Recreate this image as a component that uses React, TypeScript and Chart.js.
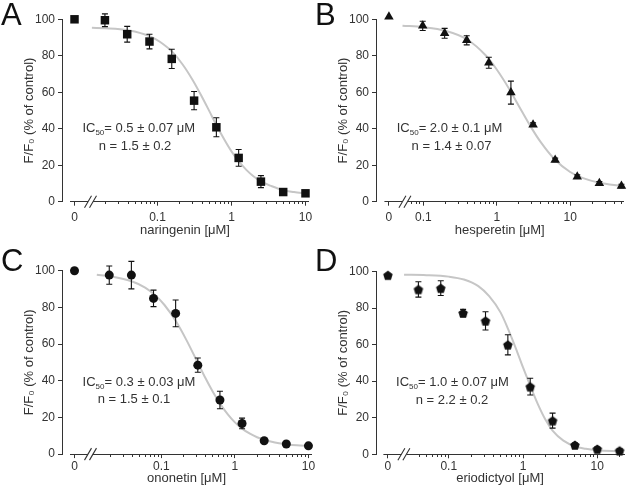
import React, { useEffect, useRef } from 'react';
import { Chart, registerables } from 'chart.js';

Chart.register(...registerables);

const FONT = '"Liberation Sans", Arial, Helvetica, sans-serif';
const INK = '#333333';
const MARK = '#111111';
const FIT_COLOR = '#c6c6c6';

// shared axis ticks
const X_TICK_CONC = [0, 0.1, 1, 10];
const X_TICK_LABELS = ['0', '0.1', '1', '10'];
const Y_TICKS = [0, 20, 40, 60, 80, 100];

// Panel A — naringenin
const CONC_A = [0, 0.0195, 0.039, 0.078, 0.156, 0.3125, 0.625, 1.25, 2.5, 5, 10];
const MEAN_A = [100, 99.5, 91.8, 87.8, 78.3, 55.4, 40.8, 24.0, 11.0, 5.3, 4.6];
const ERR_A = [0, 3.5, 4.3, 4.0, 5.3, 5.0, 5.2, 4.6, 3.3, 1.0, 1.0];
const FIT_X_A = [0.013, 0.02, 0.04, 0.08, 0.12, 0.16, 0.22, 0.3, 0.4, 0.5, 0.63, 0.8, 1.0, 1.25, 1.6, 2.0, 2.5, 3.5, 5, 7, 10];
const FIT_Y_A = [95.3, 95.1, 94.0, 90.6, 86.3, 82.0, 75.1, 66.6, 57.4, 49.8, 41.8, 34.1, 27.6, 22.2, 17.3, 13.8, 11.1, 8.5, 6.3, 5.3, 4.5];

// Panel B — hesperetin
const CONC_B = [0, 0.098, 0.195, 0.39, 0.78, 1.56, 3.125, 6.25, 12.5, 25, 50];
const MEAN_B = [101.4, 96.4, 92.3, 88.5, 76.2, 59.8, 42.2, 22.9, 13.7, 10.1, 8.6];
const ERR_B = [0, 2.5, 2.7, 2.5, 3.0, 6.3, 1.0, 1.0, 1.0, 1.0, 1.0];
const FIT_X_B = [0.052, 0.1, 0.2, 0.4, 0.7, 1.0, 1.5, 2.0, 3.0, 4.0, 6.0, 10, 15, 25, 50];
const FIT_Y_B = [96.5, 95.7, 93.7, 88.8, 80.4, 72.5, 61.4, 52.5, 40.2, 32.5, 23.7, 16.3, 12.9, 10.4, 8.6];

// Panel C — ononetin
const CONC_C = [0, 0.0195, 0.039, 0.078, 0.156, 0.3125, 0.625, 1.25, 2.5, 5, 10];
const MEAN_C = [100, 97.6, 97.6, 84.9, 76.7, 48.5, 29.5, 16.7, 7.3, 5.5, 4.5];
const ERR_C = [0, 5.0, 7.5, 4.5, 7.3, 3.9, 4.8, 2.9, 1.0, 1.0, 1.0];
const FIT_X_C = [0.0132, 0.02, 0.04, 0.06, 0.08, 0.11, 0.16, 0.22, 0.3, 0.4, 0.5, 0.63, 0.8, 1.0, 1.25, 1.6, 2.0, 2.5, 3.5, 5, 7, 10];
const FIT_Y_C = [97.8, 96.9, 94.1, 90.8, 87.0, 81.3, 72.0, 62.0, 51.2, 41.2, 34.0, 27.4, 21.7, 17.3, 13.9, 11.1, 9.2, 7.8, 6.3, 5.4, 4.8, 4.5];

// Panel D — eriodictyol
const CONC_D = [0, 0.039, 0.078, 0.156, 0.3125, 0.625, 1.25, 2.5, 5, 10, 20];
const MEAN_D = [98.0, 90.2, 90.9, 77.3, 73.0, 59.9, 37.0, 18.4, 5.1, 2.9, 2.0];
const ERR_D = [0, 4.2, 4.0, 2.0, 5.0, 5.5, 4.6, 4.1, 1.0, 1.0, 1.0];
const FIT_X_D = [0.025, 0.05, 0.1, 0.16, 0.25, 0.35, 0.5, 0.63, 0.8, 1.0, 1.25, 1.6, 2.0, 2.5, 3.5, 5, 7, 10, 20];
const FIT_Y_D = [98.2, 98.0, 97.2, 95.6, 92.0, 86.5, 77.5, 68.5, 58.0, 47.5, 37.5, 27.0, 19.0, 13.0, 7.5, 4.4, 3.0, 2.2, 1.6];

type Marker = 'rect' | 'triangle' | 'circle' | 'pentagon';

type PanelCfg = {
  letter: string;
  left: number; top: number; w: number; h: number;
  conc: number[]; mean: number[]; err: number[]; fitX: number[]; fitY: number[];
  marker: Marker; radius: number;
  xMin: number; xMax: number; zero: number;
  plotTop: number; axisY: number; padRight: number;
  labelGap: number; titleY: number;
  xTitle: string; ic50: string; hill: string;
  l1: [number, number]; l2: [number, number];
};

const PANELS: PanelCfg[] = [
  {
    letter: 'A', left: 0, top: 0, w: 320, h: 246,
    conc: CONC_A, mean: MEAN_A, err: ERR_A, fitX: FIT_X_A, fitY: FIT_Y_A,
    marker: 'rect', radius: 6,
    xMin: -2.29, xMax: 1.034, zero: -2.121,
    plotTop: 19.3, axisY: 201.7, padRight: 12,
    labelGap: 15.5, titleY: 230.5,
    xTitle: 'naringenin [μM]', ic50: '0.5 ± 0.07 μM', hill: 'n = 1.5 ± 0.2',
    l1: [138.8, 128.3], l2: [135, 145.7],
  },
  {
    letter: 'B', left: 314, top: 0, w: 315, h: 246,
    conc: CONC_B, mean: MEAN_B, err: ERR_B, fitX: FIT_X_B, fitY: FIT_Y_B,
    marker: 'triangle', radius: 5.5,
    xMin: -1.645, xMax: 1.727, zero: -1.469,
    plotTop: 19.3, axisY: 201.7, padRight: 3.5,
    labelGap: 15.5, titleY: 230.5,
    xTitle: 'hesperetin [μM]', ic50: '2.0 ± 0.1 μM', hill: 'n = 1.4 ± 0.07',
    l1: [135.5, 128.3], l2: [137.5, 145.7],
  },
  {
    letter: 'C', left: 0, top: 246, w: 320, h: 247,
    conc: CONC_C, mean: MEAN_C, err: ERR_C, fitX: FIT_X_C, fitY: FIT_Y_C,
    marker: 'circle', radius: 4.5,
    xMin: -2.353, xMax: 1.035, zero: -2.183,
    plotTop: 24.7, axisY: 208.1, padRight: 9,
    labelGap: 12.5, titleY: 232,
    xTitle: 'ononetin [μM]', ic50: '0.3 ± 0.03 μM', hill: 'n = 1.5 ± 0.1',
    l1: [139, 135.7], l2: [134, 153.3],
  },
  {
    letter: 'D', left: 314, top: 246, w: 315, h: 247,
    conc: CONC_D, mean: MEAN_D, err: ERR_D, fitX: FIT_X_D, fitY: FIT_Y_D,
    marker: 'pentagon', radius: 5,
    xMin: -1.98, xMax: 1.36, zero: -1.82,
    plotTop: 25.5, axisY: 208.3, padRight: 2.5,
    labelGap: 12.5, titleY: 232,
    xTitle: 'eriodictyol [μM]', ic50: '1.0 ± 0.07 μM', hill: 'n = 2.2 ± 0.2',
    l1: [138.5, 135.7], l2: [138, 154],
  },
];

function pentagonImage(r: number): HTMLCanvasElement {
  const s = Math.ceil(r * 2 + 2);
  const c = document.createElement('canvas');
  c.width = s;
  c.height = s;
  const g = c.getContext('2d')!;
  g.fillStyle = MARK;
  g.beginPath();
  for (let k = 0; k < 5; k++) {
    const a = -Math.PI / 2 + (k * 2 * Math.PI) / 5;
    const px = s / 2 + r * Math.cos(a);
    const py = s / 2 + 0.6 + r * Math.sin(a);
    if (k === 0) g.moveTo(px, py);
    else g.lineTo(px, py);
  }
  g.closePath();
  g.fill();
  return c;
}

const errorBars = {
  id: 'errorBars',
  beforeDatasetDraw(chart: any, args: any) {
    if (args.index !== 0) return;
    const { ctx, scales } = chart;
    const ds = chart.data.datasets[0];
    const errs: number[] = ds.errors;
    ctx.save();
    ctx.strokeStyle = MARK;
    ctx.lineWidth = 1.1;
    ds.data.forEach((pt: any, i: number) => {
      const e = errs[i];
      if (!e) return;
      const px = scales.x.getPixelForValue(pt.x);
      const yt = scales.y.getPixelForValue(pt.y + e);
      const yb = scales.y.getPixelForValue(pt.y - e);
      ctx.beginPath();
      ctx.moveTo(px, yt);
      ctx.lineTo(px, yb);
      ctx.moveTo(px - 3, yt);
      ctx.lineTo(px + 3, yt);
      ctx.moveTo(px - 3, yb);
      ctx.lineTo(px + 3, yb);
      ctx.stroke();
    });
    ctx.restore();
  },
};

const axisBreak = {
  id: 'axisBreak',
  afterDraw(chart: any, _args: any, opts: any) {
    const { ctx, chartArea, scales } = chart;
    const y = chartArea.bottom;
    const z = scales.x.getPixelForValue(opts.zero);
    const b = z + 16;
    ctx.save();
    ctx.fillStyle = '#ffffff';
    ctx.fillRect(chartArea.left + 1, y - 1.5, z - 4.5 - chartArea.left - 1, 3.5);
    ctx.fillRect(b - 2.5, y - 1.5, 5, 3.5);
    ctx.strokeStyle = INK;
    ctx.lineWidth = 1.1;
    ctx.beginPath();
    for (const dx of [-2.5, 2.5]) {
      ctx.moveTo(b + dx - 3.5, y + 6);
      ctx.lineTo(b + dx + 3.5, y - 6);
    }
    ctx.stroke();
    ctx.restore();
  },
};

function PanelChart({ p }: { p: PanelCfg }) {
  const ref = useRef<HTMLCanvasElement | null>(null);

  useEffect(() => {
    if (!ref.current) return;
    const toX = (c: number) => (c === 0 ? p.zero : Math.log10(c));
    const points = p.conc.map((c, i) => ({ x: toX(c), y: p.mean[i] }));
    const fit = p.fitX.map((c, i) => ({ x: Math.log10(c), y: p.fitY[i] }));
    const majors = X_TICK_CONC.map(toX);
    const minors: number[] = [];
    for (let d = -3; d <= 2; d++) {
      for (let m = 2; m <= 9; m++) {
        const v = Math.log10(m) + d;
        if (v > p.zero + 0.31 && v <= p.xMax + 1e-9) minors.push(v);
      }
    }
    const tickVals = [...majors, ...minors].sort((a, b) => a - b);
    const majorIndex = (v: number) => majors.findIndex((m) => Math.abs(m - v) < 1e-6);

    const pointStyle: any = p.marker === 'pentagon' ? pentagonImage(p.radius) : p.marker;

    const chart = new Chart(ref.current, {
      type: 'scatter',
      data: {
        datasets: [
          {
            type: 'scatter',
            data: points,
            errors: p.err,
            pointStyle,
            pointRadius: p.radius,
            pointHoverRadius: p.radius,
            backgroundColor: MARK,
            borderColor: MARK,
            borderWidth: 0,
            clip: false,
          } as any,
          {
            type: 'line',
            data: fit,
            borderColor: FIT_COLOR,
            borderWidth: 2,
            pointRadius: 0,
            cubicInterpolationMode: 'monotone',
            fill: false,
            clip: false,
          } as any,
        ],
      },
      options: {
        responsive: false,
        animation: false,
        devicePixelRatio: 1,
        events: [],
        layout: { padding: { top: p.plotTop, right: p.padRight, left: 0, bottom: 0 } },
        plugins: {
          legend: { display: false },
          tooltip: { enabled: false },
          axisBreak: { zero: p.zero },
        } as any,
        scales: {
          x: {
            type: 'linear',
            min: p.xMin,
            max: p.xMax,
            afterBuildTicks: (s: any) => {
              s.ticks = tickVals.map((v) => ({ value: v }));
            },
            afterFit: (s: any) => {
              s.height = p.h - p.axisY;
            },
            ticks: {
              autoSkip: false,
              maxRotation: 0,
              minRotation: 0,
              padding: p.labelGap - 4 - 7.2,
              color: INK,
              font: { family: FONT, size: 12 },
              callback: (v: any) => {
                const i = majorIndex(Number(v));
                return i >= 0 ? X_TICK_LABELS[i] : '';
              },
            },
            grid: {
              display: true,
              drawOnChartArea: false,
              drawTicks: true,
              tickLength: 4,
              tickColor: INK,
              tickWidth: 1,
              tickBorderDash: (ctx: any) => (ctx.tick && majorIndex(ctx.tick.value) >= 0 ? [] : [2, 30]),
            },
            border: { display: true, color: INK, width: 1 },
            title: {
              display: true,
              text: p.xTitle,
              color: INK,
              font: { family: FONT, size: 13 },
              padding: { top: 0, bottom: p.h - p.titleY - 7.8 },
            },
          } as any,
          y: {
            type: 'linear',
            min: 0,
            max: 100,
            afterBuildTicks: (s: any) => {
              s.ticks = Y_TICKS.map((v) => ({ value: v }));
            },
            afterFit: (s: any) => {
              s.width = 62;
            },
            ticks: {
              padding: 3,
              color: INK,
              font: { family: FONT, size: 12 },
            },
            grid: {
              display: true,
              drawOnChartArea: false,
              drawTicks: true,
              tickLength: 4,
              tickColor: INK,
              tickWidth: 1,
            },
            border: { display: true, color: INK, width: 1 },
            title: {
              display: true,
              text: 'F/F₀ (% of control)',
              color: INK,
              font: { family: FONT, size: 13 },
              padding: { top: 21.2, bottom: 0 },
            },
          } as any,
        },
      },
      plugins: [errorBars, axisBreak],
    });
    return () => chart.destroy();
  }, [p]);

  return (
    <>
      <canvas
        ref={ref}
        width={p.w}
        height={p.h}
        style={{ position: 'absolute', left: p.left, top: p.top, width: p.w, height: p.h }}
      />
      <div
        style={{
          position: 'absolute',
          left: p.left + 1,
          top: p.top,
          fontSize: 31,
          lineHeight: '30px',
          color: '#111',
        }}
      >
        {p.letter}
      </div>
      <div
        style={{
          position: 'absolute',
          left: p.left + p.l1[0] - 100,
          top: p.top + p.l1[1] - 8,
          width: 200,
          textAlign: 'center',
          fontSize: 13,
          lineHeight: '16px',
          color: INK,
          whiteSpace: 'nowrap',
        }}
      >
        IC<span style={{ fontSize: 8, position: 'relative', top: 3 }}>50</span>= {p.ic50}
      </div>
      <div
        style={{
          position: 'absolute',
          left: p.left + p.l2[0] - 100,
          top: p.top + p.l2[1] - 8,
          width: 200,
          textAlign: 'center',
          fontSize: 13,
          lineHeight: '16px',
          color: INK,
          whiteSpace: 'nowrap',
        }}
      >
        {p.hill}
      </div>
    </>
  );
}

export default function App() {
  return (
    <div
      style={{
        position: 'absolute',
        left: 0,
        top: 0,
        width: 629,
        height: 493,
        overflow: 'hidden',
        background: '#ffffff',
        fontFamily: FONT,
      }}
    >
      {PANELS.map((p) => (
        <PanelChart key={p.letter} p={p} />
      ))}
    </div>
  );
}
